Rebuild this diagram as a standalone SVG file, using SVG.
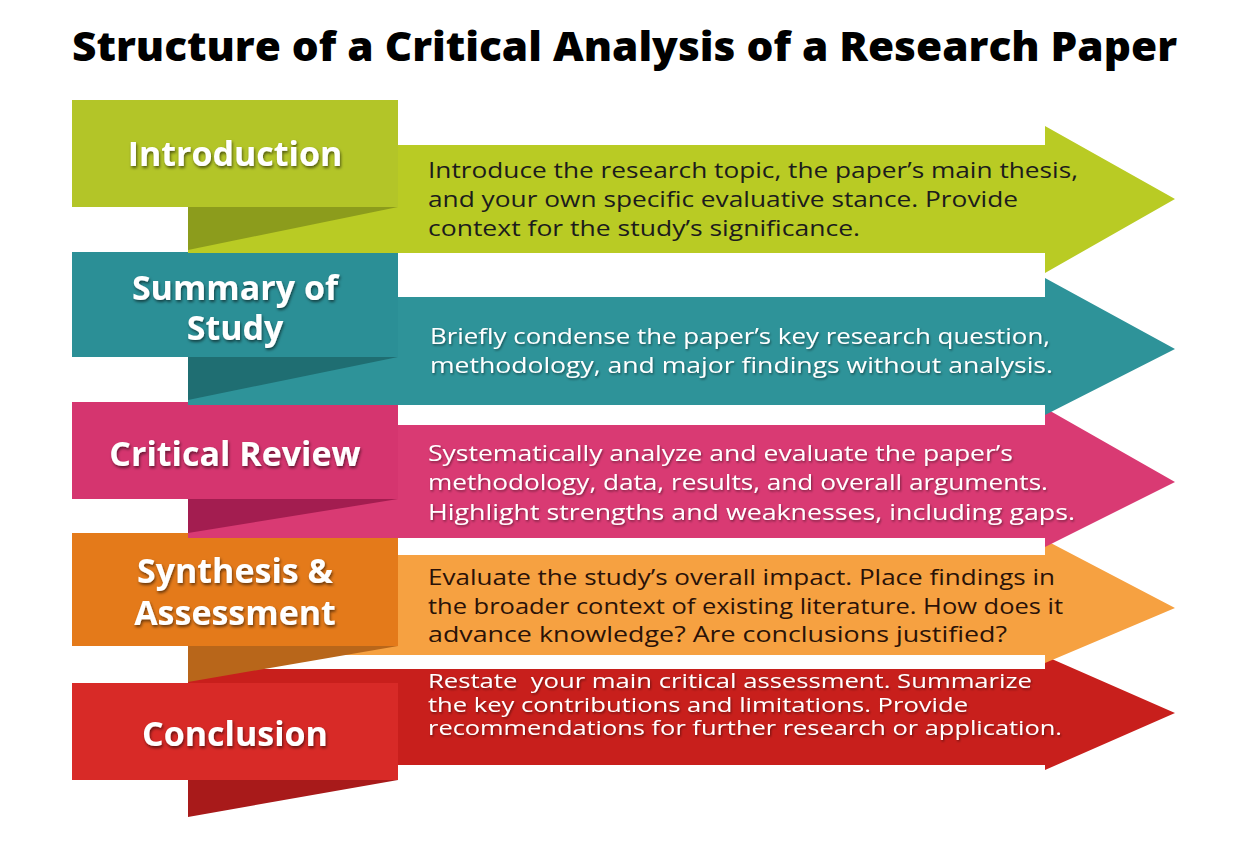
<svg xmlns="http://www.w3.org/2000/svg" width="1242" height="864" viewBox="0 0 1242 864">
  <defs>
    <filter id="lblShadow" x="-10%" y="-30%" width="120%" height="160%">
      <feDropShadow dx="1" dy="2" stdDeviation="1.6" flood-color="#000" flood-opacity="0.55"/>
    </filter>
    <filter id="txtShadow" x="-5%" y="-30%" width="110%" height="160%">
      <feDropShadow dx="1" dy="1.5" stdDeviation="1.2" flood-color="#000" flood-opacity="0.45"/>
    </filter>
  </defs>
  <style>
    .title { font-family: "Open Sans", "Liberation Sans", sans-serif; font-weight: 800; font-size: 40px; fill: #000; }
    .lbl { font-family: "Open Sans", "Liberation Sans", sans-serif; font-weight: 700; font-size: 34px; fill: #fff; text-anchor: middle; filter: url(#lblShadow); }
    .desc { font-family: "Open Sans", "Liberation Sans", sans-serif; font-weight: 500; font-size: 22px; }
    .tight { font-size: 20px; }
    .dark { fill: #1c1c1c; }
    .darkor { fill: #2a1208; }
    .light { fill: #fff; filter: url(#txtShadow); }
  </style>
  <rect width="1242" height="864" fill="#fff"/>

  <text class="title" x="72" y="61" textLength="1105" lengthAdjust="spacingAndGlyphs">Structure of a Critical Analysis of a Research Paper</text>

  <!-- Row 5: Conclusion (drawn first, lowest layer) -->
  <g id="conclusion">
    <polygon points="188,669 1045,669 1045,656 1175,713 1045,770 1045,765 188,765" fill="#c81f1c"/>
    <rect x="72" y="683" width="326" height="97" fill="#d82a27"/>
    <polygon points="188,780 398,780 188,817" fill="#a81a1a"/>
    <text class="lbl" x="235" y="746">Conclusion</text>
    <text class="desc tight light" x="428" y="688" textLength="604" lengthAdjust="spacingAndGlyphs" xml:space="preserve">Restate  your main critical assessment. Summarize</text>
    <text class="desc tight light" x="428" y="712" textLength="540" lengthAdjust="spacingAndGlyphs">the key contributions and limitations. Provide</text>
    <text class="desc tight light" x="428" y="735" textLength="634" lengthAdjust="spacingAndGlyphs">recommendations for further research or application.</text>
  </g>

  <!-- Row 4: Synthesis & Assessment -->
  <g id="synthesis">
    <polygon points="188,555 1045,555 1045,540 1175,608 1045,663 1045,655 188,655" fill="#f6a141"/>
    <rect x="72" y="533" width="326" height="113" fill="#e47a1a"/>
    <polygon points="188,646 398,646 188,682" fill="#b8661a"/>
    <text class="lbl" x="235" y="583">Synthesis &amp;</text>
    <text class="lbl" x="235" y="625">Assessment</text>
    <text class="desc darkor" x="428" y="585" textLength="627" lengthAdjust="spacingAndGlyphs">Evaluate the study’s overall impact. Place findings in</text>
    <text class="desc darkor" x="428" y="614" textLength="635" lengthAdjust="spacingAndGlyphs">the broader context of existing literature. How does it</text>
    <text class="desc darkor" x="428" y="642" textLength="579" lengthAdjust="spacingAndGlyphs">advance knowledge? Are conclusions justified?</text>
  </g>

  <!-- Row 3: Critical Review -->
  <g id="critical-review">
    <polygon points="188,425 1045,425 1045,408 1175,482 1045,547 1045,538 188,538" fill="#d93a73"/>
    <rect x="72" y="402" width="326" height="97" fill="#d5356f"/>
    <polygon points="188,499 398,499 188,533" fill="#a31d50"/>
    <text class="lbl" x="235" y="466">Critical Review</text>
    <text class="desc light" x="428" y="461" textLength="585" lengthAdjust="spacingAndGlyphs">Systematically analyze and evaluate the paper’s</text>
    <text class="desc light" x="428" y="490" textLength="620" lengthAdjust="spacingAndGlyphs">methodology, data, results, and overall arguments.</text>
    <text class="desc light" x="428" y="520" textLength="647" lengthAdjust="spacingAndGlyphs">Highlight strengths and weaknesses, including gaps.</text>
  </g>

  <!-- Row 2: Summary of Study -->
  <g id="summary">
    <polygon points="188,297 1045,297 1045,278 1175,349 1045,415 1045,405 188,405" fill="#2e9399"/>
    <rect x="72" y="252" width="326" height="105" fill="#2b8f96"/>
    <polygon points="188,357 398,357 188,400" fill="#1f6e72"/>
    <text class="lbl" x="235" y="300">Summary of</text>
    <text class="lbl" x="235" y="340">Study</text>
    <text class="desc light" x="430" y="344" textLength="620" lengthAdjust="spacingAndGlyphs">Briefly condense the paper’s key research question,</text>
    <text class="desc light" x="430" y="373" textLength="623" lengthAdjust="spacingAndGlyphs">methodology, and major findings without analysis.</text>
  </g>

  <!-- Row 1: Introduction (top layer) -->
  <g id="introduction">
    <polygon points="188,145 1045,145 1045,126 1175,199 1045,273 1045,253 188,253" fill="#b9cb24"/>
    <rect x="72" y="100" width="326" height="107" fill="#b3c528"/>
    <polygon points="188,207 398,207 188,250" fill="#8c9c1c"/>
    <text class="lbl" x="235" y="166">Introduction</text>
    <text class="desc dark" x="428" y="178" textLength="650" lengthAdjust="spacingAndGlyphs">Introduce the research topic, the paper’s main thesis,</text>
    <text class="desc dark" x="428" y="207" textLength="590" lengthAdjust="spacingAndGlyphs">and your own specific evaluative stance. Provide</text>
    <text class="desc dark" x="428" y="236" textLength="432" lengthAdjust="spacingAndGlyphs">context for the study’s significance.</text>
  </g>

  <g id="connectors"></g>
</svg>
